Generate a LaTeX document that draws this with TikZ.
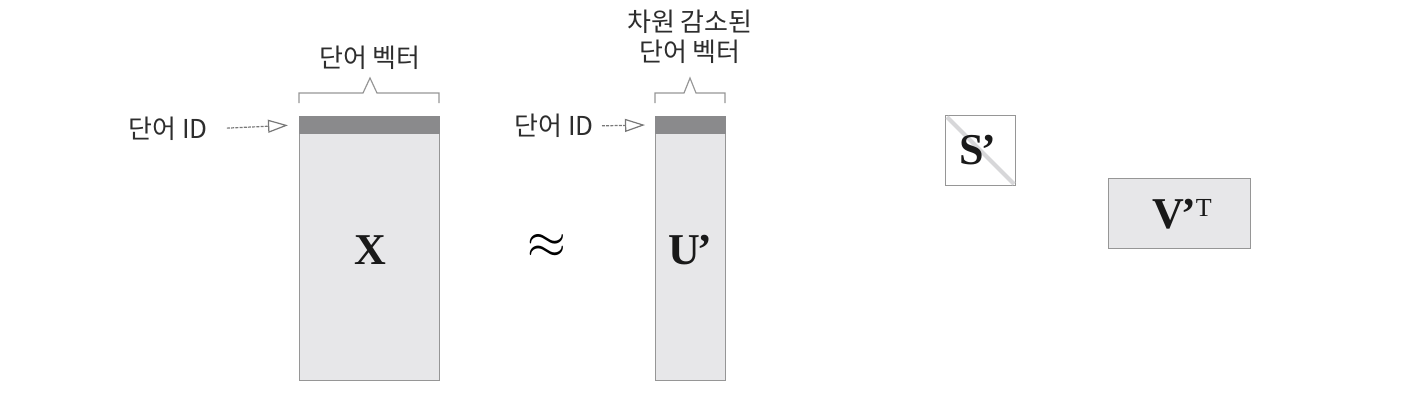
\documentclass[tikz,border=0pt]{standalone}
\usepackage{fontspec}
\setmainfont{Liberation Serif}
\newfontfamily\kr{Noto Sans CJK KR}
\usetikzlibrary{arrows.meta}
\definecolor{boxfill}{RGB}{231,231,233}
\definecolor{bandfill}{RGB}{138,138,140}
\definecolor{edgegray}{RGB}{150,150,150}
\definecolor{arrowgray}{RGB}{120,120,120}
\definecolor{diaggray}{RGB}{215,215,217}
\definecolor{txt}{RGB}{45,45,45}
\newcommand{\myprime}{\kern-1.5pt’}
\begin{document}
\begin{tikzpicture}[x=0.5pt,y=-0.5pt,
  matbox/.style={draw=edgegray, fill=boxfill, line width=0.5pt, inner sep=0pt, anchor=north west},
  bandbox/.style={draw=bandfill, fill=bandfill, line width=0.3pt, inner sep=0pt, anchor=north west, minimum height=8.5pt},
  krlabel/.style={font=\kr\fontsize{13}{15}\selectfont, text=txt, inner sep=0pt, align=center},
  matlabel/.style={font=\bfseries\fontsize{22}{22}\selectfont, text=black!90, inner sep=0pt},
  idarrow/.style={draw=arrowgray, line width=0.6pt, dash pattern=on 1.5pt off 0.6pt, -{Triangle[open, length=10pt, width=6.5pt, line width=0.6pt]}},
  bracepath/.style={draw=edgegray, line width=0.6pt}
]
\useasboundingbox (0,0) rectangle (1409,409);

% X matrix
\node[matbox, minimum width=70pt, minimum height=132pt] (X) at (299,116) {};
\node[bandbox, minimum width=70pt] (Xb) at (299,116) {};
\node[matlabel] (Xl) at (370,250) {X};

% U' matrix
\node[matbox, minimum width=35pt, minimum height=132pt] (U) at (655,116) {};
\node[bandbox, minimum width=35pt] (Ub) at (655,116) {};
\node[matlabel] (Ul) at (690,250) {U\myprime};

% approx
\node[inner sep=0pt] (approx) at (547,246) {\fontsize{24}{24}\selectfont$\approx$};

% S' matrix
\node[matbox, fill=white, minimum width=35pt, minimum height=35pt] (S) at (945,115) {};
\draw[diaggray, line width=2pt] ([shift={(2,2)}]S.north west) -- ([shift={(-2,-2)}]S.south east);
\node[matlabel] (Sl) at (978,150) {S\myprime};

% V'^T matrix
\node[matbox, minimum width=71pt, minimum height=35pt] (V) at (1108,178) {};
\node[matlabel] (Vl) at (1182,214) {V\myprime\raisebox{6pt}{\mdseries\fontsize{13}{13}\selectfont T}};

% word ID labels and arrows
\node[krlabel, anchor=east] (id1) at (208,129) {단어 ID};
\draw[idarrow, shorten <=9.5pt, shorten >=5.5pt] (id1.east) -- (Xb.west);
\node[krlabel, anchor=east] (id2) at (594,126) {단어 ID};
\draw[idarrow, shorten <=4pt, shorten >=5pt] (id2.east) -- (Ub.west);

% braces
\draw[bracepath] (299,103) -- (299,93) -- (363,93) -- (370,78) -- (377,93) -- (439,93) -- (439,103);
\draw[bracepath] (655,103) -- (655,93) -- (684,93) -- (690,78) -- (696,93) -- (725,93) -- (725,103);

% brace labels
\node[krlabel] (wv1) at (370,58) {단어 벡터};
\node[krlabel] (wv2) at (690,37) {차원 감소된\\단어 벡터};
\end{tikzpicture}
\end{document}
